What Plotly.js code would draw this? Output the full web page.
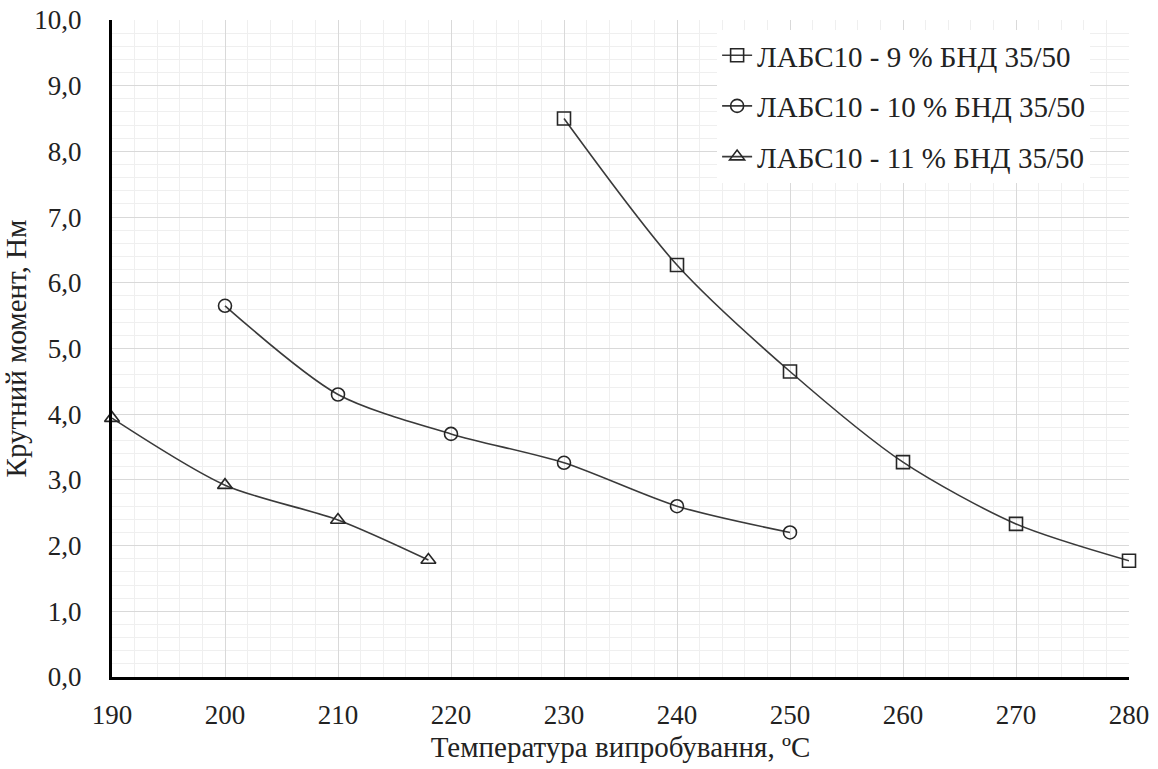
<!DOCTYPE html>
<html>
<head>
<meta charset="utf-8">
<script src="https://cdn.plot.ly/plotly-3.0.1.min.js"></script>
<style>html,body{margin:0;padding:0;background:#fff;}#chart{width:1158px;height:769px;}</style>
</head>
<body>
<div id="chart"></div>
<script>
const seriesNames = ["ЛАБС10 - 9 % БНД 35/50", "ЛАБС10 - 10 % БНД 35/50", "ЛАБС10 - 11 % БНД 35/50"];
const x9 = [230, 240, 250, 260, 270, 280];
const y9 = [8.5, 6.27, 4.65, 3.27, 2.33, 1.77];
const x10 = [200, 210, 220, 230, 240, 250];
const y10 = [5.65, 4.3, 3.7, 3.26, 2.6, 2.2];
const x11 = [190, 200, 210, 218];
const y11 = [3.94, 2.92, 2.39, 1.78];
const symbols = ["square-open", "circle-open", "triangle-up-open"];
const xTicks = [190, 200, 210, 220, 230, 240, 250, 260, 270, 280];
const yTicks = [0, 1, 2, 3, 4, 5, 6, 7, 8, 9, 10];

const font = 'Liberation Serif';
const xs = [x9, x10, x11], ys = [y9, y10, y11];
const traces = xs.map((xv, i) => ({
  x: xv, y: ys[i], name: seriesNames[i], type: 'scatter', mode: 'lines+markers',
  legendgroup: 'g' + i,
  line: {shape: 'spline', smoothing: 0.8, color: '#3a3a3a', width: 1.6},
  marker: {symbol: symbols[i], size: 13, color: '#262626', line: {width: 1.6, color: '#262626'}},
  cliponaxis: false
}));

const layout = {
  width: 1158, height: 769,
  margin: {l: 112, r: 29, t: 20, b: 92},
  paper_bgcolor: '#fff', plot_bgcolor: '#fff',
  separators: ', ',
  font: {family: font, size: 27, color: '#222'},
  showlegend: true,
  legend: {
    x: 0.595, y: 0.985, xanchor: 'left', yanchor: 'top',
    bgcolor: '#fff', borderwidth: 0,
    font: {family: font, size: 29, color: '#222'},
    traceorder: 'grouped', tracegroupgap: 10, itemwidth: 30
  },
  xaxis: {
    range: [190, 280], tickvals: xTicks, ticktext: xTicks.map(String),
    showline: true, linecolor: '#000', linewidth: 3, zeroline: false,
    showgrid: true, gridcolor: '#d9d9d9', gridwidth: 1,
    minor: {dtick: 2, showgrid: true, gridcolor: '#efefef', gridwidth: 1},
    ticks: '', ticklabelstandoff: 12,
    tickfont: {family: font, size: 27, color: '#222'},
    title: {text: 'Температура випробування, ºC', font: {family: font, size: 29, color: '#222'}, standoff: 8}
  },
  yaxis: {
    range: [0, 10], tickvals: yTicks, tickformat: '.1f',
    showline: true, linecolor: '#000', linewidth: 3, zeroline: false,
    showgrid: true, gridcolor: '#d9d9d9', gridwidth: 1,
    minor: {dtick: 0.2, showgrid: true, gridcolor: '#efefef', gridwidth: 1},
    ticks: '', ticklabelstandoff: 22,
    tickfont: {family: font, size: 27, color: '#222'},
    title: {text: 'Крутний момент, Нм', font: {family: font, size: 29, color: '#222'}, standoff: 8}
  }
};
Plotly.newPlot('chart', traces, layout, {displayModeBar: false, staticPlot: true});
</script>
</body>
</html>
